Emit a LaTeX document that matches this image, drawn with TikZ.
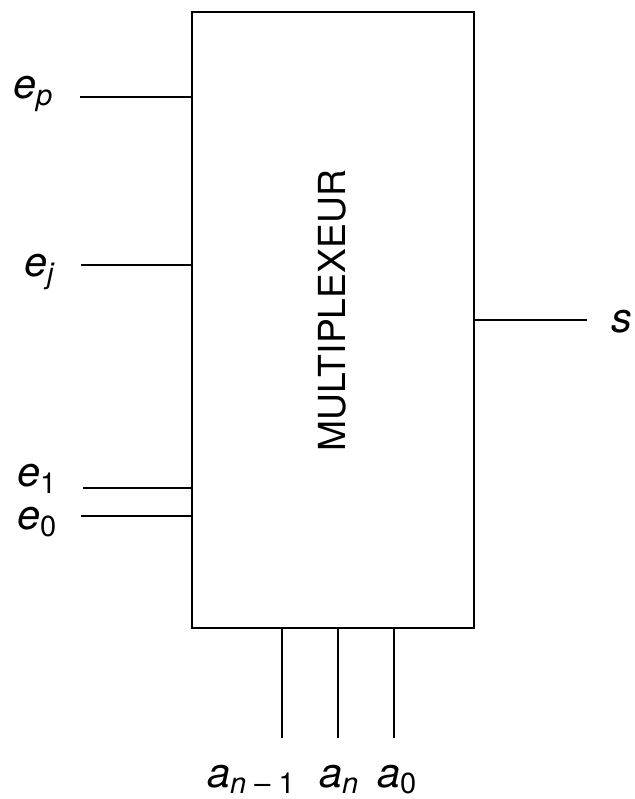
\documentclass[tikz,border=0pt]{standalone}
\usepackage{fontspec}
\setmainfont{TeX Gyre Heros}
\usepackage{tikz}
\usetikzlibrary{calc, positioning}

\newcommand{\sig}[2]{\textit{#1}\textsubscript{#2}}

\begin{document}
\begin{tikzpicture}[line width=0.6pt,
    lbl/.style={font=\fontsize{11.8}{14}\selectfont, inner sep=0pt, anchor=base west}]
    \useasboundingbox (0,0) rectangle (6.35,7.99);
    % Bloc du multiplexeur
    \node[draw, minimum width=2.82cm, minimum height=6.16cm, inner sep=0pt]
        (mux) at (3.33,4.79) {};
    \node[rotate=90, font=\fontsize{10.6}{12}\selectfont] (nom) at (3.32,4.88) {MULTIPLEXEUR};
    
    % Entrées
    \coordinate (ep) at (0.80,7.02);
    \coordinate (ej) at (0.81,5.34);
    \coordinate (e1) at (0.83,3.11);
    \coordinate (e0) at (0.81,2.83);
    \draw (ep) -- (ep -| mux.west);
    \draw (ej) -- (ej -| mux.west);
    \draw (e1) -- (e1 -| mux.west);
    \draw (e0) -- (e0 -| mux.west);
    \node[lbl] (lep) at (0.12,7.00) {\sig{e}{\textit{p}}};
    \node[lbl] (lej) at (0.23,5.22) {\sig{e}{\textit{j}}};
    \node[lbl] (le1) at (0.16,3.12) {\sig{e}{1}};
    \node[lbl] (le0) at (0.16,2.69) {\sig{e}{0}};
    
    % Sortie
    \coordinate (s) at (5.87,4.79);
    \draw (mux.east) -- (s);
    \node[lbl] (ls) at (6.10,4.66) {\textit{s}};
    
    % Commandes
    \coordinate (an1) at (2.82,0.61);
    \coordinate (an) at (3.38,0.61);
    \coordinate (a0) at (3.94,0.61);
    \draw (an1 |- mux.south) -- (an1);
    \draw (an |- mux.south) -- (an);
    \draw (a0 |- mux.south) -- (a0);
    \node[lbl] (lan1) at (2.06,0.12) {\sig{a}{\textit{n} – 1}};
    \node[lbl] (lan) at (3.18,0.12) {\sig{a}{\textit{n}}};
    \node[lbl] (la0) at (3.76,0.12) {\sig{a}{0}};
\end{tikzpicture}
\end{document}
